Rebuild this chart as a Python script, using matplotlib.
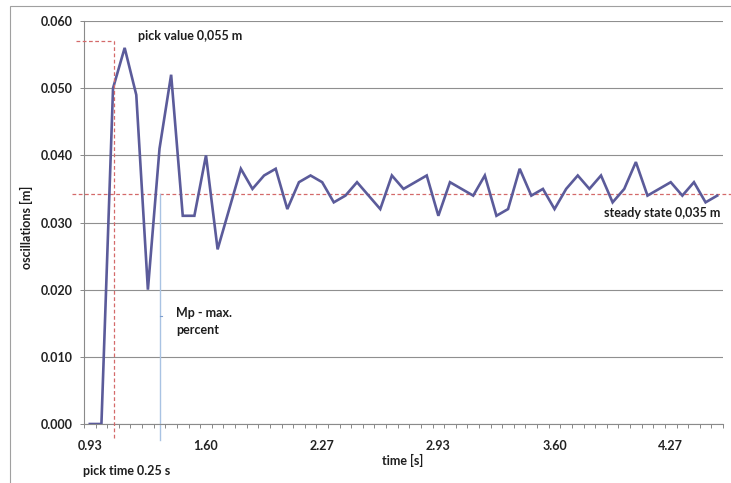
import matplotlib
matplotlib.use("Agg")
import matplotlib.pyplot as plt
import numpy as np
from matplotlib.patches import Rectangle

# ---- data ----
values = [0.000, 0.000, 0.050, 0.056, 0.049, 0.020, 0.041, 0.052, 0.031, 0.031,
          0.040, 0.026, 0.032, 0.038, 0.035, 0.037, 0.038, 0.032, 0.036, 0.037,
          0.036, 0.033, 0.034, 0.036, 0.034, 0.032, 0.037, 0.035, 0.036, 0.037,
          0.031, 0.036, 0.035, 0.034, 0.037, 0.031, 0.032, 0.038, 0.034, 0.035,
          0.032, 0.035, 0.037, 0.035, 0.037, 0.033, 0.035, 0.039, 0.034, 0.035,
          0.036, 0.034, 0.036, 0.033, 0.034]
xtick_labels = ["0.93", "1.60", "2.27", "2.93", "3.60", "4.27"]
ytick_values = [0.000, 0.010, 0.020, 0.030, 0.040, 0.050, 0.060]
peak_value = 0.057
steady_value = 0.0343

W, H = 731, 483
fig = plt.figure(figsize=(W / 100, H / 100), dpi=100)
plt.rcParams['font.family'] = ['Lato', 'DejaVu Sans']

def fx(px):
    return px / W

def fy(py):
    return 1 - py / H

ax = fig.add_axes([fx(84), fy(424), fx(723) - fx(84), fy(21) - fy(424)])

pos = np.arange(len(values))
ax.plot(pos, values, color='#5b5b9a', lw=1.9, solid_joinstyle='miter', zorder=3)

ax.set_xlim(-0.5, len(values) - 0.5)
ax.set_ylim(0, 0.060)

ax.set_yticks(ytick_values)
ax.set_yticklabels([f"{v:.3f}" for v in ytick_values])
ax.set_xticks(pos[::10][:len(xtick_labels)])
ax.set_xticklabels(xtick_labels)
ax.set_xticks(np.arange(-0.5, len(values) + 0.5, 1.0), minor=True)

ax.tick_params(axis='x', which='major', length=0, pad=11.5, labelsize=9,
               labelcolor='#222222')
ax.tick_params(axis='x', which='minor', length=3, width=0.7, color='#888888',
               direction='out')
ax.tick_params(axis='y', which='major', length=3, width=0.7, color='#888888',
               pad=5, labelsize=9, labelcolor='#222222')
for lab in ax.get_xticklabels() + ax.get_yticklabels():
    lab.set_fontweight('bold')

ax.grid(axis='y', color='#8f8f8f', lw=0.8)
ax.set_axisbelow(True)
for s in ['top', 'right']:
    ax.spines[s].set_visible(False)
for s in ['left', 'bottom']:
    ax.spines[s].set_color('#8a8a8a')
    ax.spines[s].set_linewidth(0.8)

# ---- annotation lines ----
red = '#d46a6a'
px_per_cat = 639 / len(values)
def cat(px):
    return (px - 84) / px_per_cat - 0.5

peak_x = cat(114.3)
ax.plot([peak_x, peak_x], [-0.0021, peak_value], color=red, lw=0.9,
        ls=(0, (3, 2)), clip_on=False, zorder=4)
ax.plot([cat(76), peak_x], [peak_value, peak_value], color=red, lw=0.9,
        ls=(0, (3, 2)), clip_on=False, zorder=4)
ax.plot([cat(72), cat(731)], [steady_value, steady_value], color=red, lw=0.9,
        ls=(0, (3, 2)), clip_on=False, zorder=2)

blue_x = cat(160)
ax.plot([blue_x, blue_x], [-0.0024, steady_value], color='#a9c3e3', lw=1.0,
        clip_on=False, zorder=2)
ax.plot([blue_x, blue_x + 0.15], [0.0161, 0.0161], color='#7f9fd0', lw=0.8,
        clip_on=False, zorder=2)

# ---- texts ----
tc = '#1e1e1e'
fs = 9
fig.text(fx(138), fy(36), "pick value 0,055 m", ha='left', va='center',
         fontsize=fs, fontweight='bold', color=tc)
fig.text(fx(720), fy(213), "steady state 0,035 m", ha='right', va='center',
         fontsize=fs, fontweight='bold', color=tc)
fig.text(fx(176), fy(313), "Mp - max.", ha='left', va='center',
         fontsize=fs, fontweight='bold', color=tc)
fig.text(fx(176), fy(330.5), "percent", ha='left', va='center',
         fontsize=fs, fontweight='bold', color=tc)
fig.text(fx(83), fy(471), "pick time 0.25 s", ha='left', va='center',
         fontsize=fs, fontweight='bold', color=tc)
fig.text(fx(403), fy(460), "time [s]", ha='center', va='center',
         fontsize=fs, fontweight='bold', color=tc)
fig.text(fx(26), fy(227), "oscillations [m]", ha='center', va='center',
         rotation=90, fontsize=fs, fontweight='bold', color=tc)

# figure border
fig.add_artist(Rectangle((fx(9.5), -0.1), 2, fy(5.5) + 0.1,
                         transform=fig.transFigure, fill=False,
                         ec='#a0a0a0', lw=0.8))

fig.savefig("out.png", dpi=100)
